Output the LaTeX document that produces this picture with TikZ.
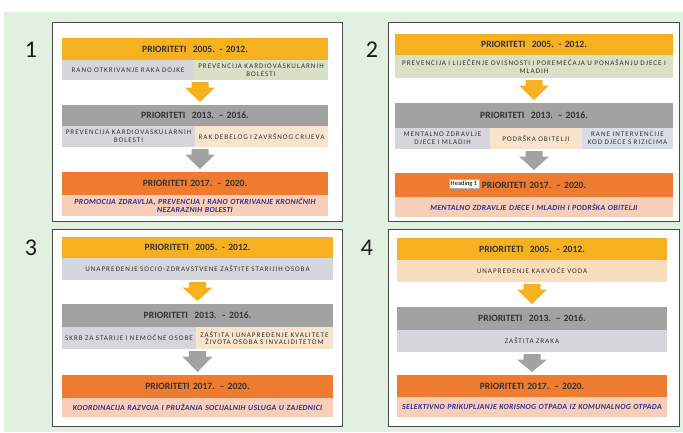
\documentclass[tikz,border=0pt]{standalone}
\usepackage{fontspec}
\setmainfont{Carlito}
\usetikzlibrary{calc}
\definecolor{bg}{HTML}{E2F0E2}
\definecolor{hy}{HTML}{F5B120}
\definecolor{hg}{HTML}{A2A2A2}
\definecolor{ho}{HTML}{EE7B30}
\definecolor{cg}{HTML}{D4D6DB}
\definecolor{cgr}{HTML}{D8E0C6}
\definecolor{cp}{HTML}{F8E4CC}
\definecolor{cpo}{HTML}{FADDBD}
\definecolor{cb}{HTML}{D6DCE8}
\definecolor{pk}{HTML}{F8CEB8}
\definecolor{nv}{HTML}{2E3190}
\definecolor{tx}{HTML}{333333}
\definecolor{fr}{HTML}{4A4A4A}
\tikzset{
  hdr/.style={font=\fontsize{9.6}{10}\selectfont\bfseries, text=tx},
  cell/.style={font=\fontsize{7.1}{7.6}\selectfont\addfontfeature{LetterSpace=14}, text=tx},
  pcell/.style={fill=pk, font=\fontsize{7.8}{8.6}\selectfont\bfseries\itshape\addfontfeature{LetterSpace=4}, text=nv},
  frame/.style={draw=fr, line width=0.9pt, fill=white},
  num/.style={font=\fontsize{24}{24}\selectfont, text=black!90},
  tag/.style={draw=gray!60, fill=white!95!yellow, font=\fontsize{6.5}{6.5}\selectfont, text=black, inner sep=1.5pt}
}
% name, x1, y1, x2, y2, style, text
\newcommand\bx[7]{%
  \pgfmathsetmacro\bxw{#4-#2}%
  \pgfmathsetmacro\bxh{#5-#3}%
  \pgfmathsetmacro\bxt{#4-#2-2}%
  \node[#6, inner sep=0pt, outer sep=0pt, minimum width=\bxw pt, minimum height=\bxh pt,
        text width=\bxt pt, align=center] (#1) at ({(#2+#4)/2},{(#3+#5)/2}) {#7};}
% top node, bottom node, x offset, colour
\newcommand\darr[4]{%
  \fill[#4] let \p1=(#1.south), \p2=(#2.north) in
    ({\x2+#3pt-8.5pt},{\y1-2pt}) -- ({\x2+#3pt+8.5pt},{\y1-2pt}) --
    ({\x2+#3pt+8.5pt},{\y1-7.5pt}) -- ({\x2+#3pt+15pt},{\y1-7.5pt}) --
    ({\x2+#3pt},{\y2+3pt}) -- ({\x2+#3pt-15pt},{\y1-7.5pt}) --
    ({\x2+#3pt-8.5pt},{\y1-7.5pt}) -- cycle;}
\begin{document}
\begin{tikzpicture}[x=1pt,y=-1pt]
\useasboundingbox (0,0) rectangle (683,432);
\fill[white] (0,0) rectangle (683,432);
\fill[bg] (4,12) rectangle (683,432);
% frames
\node[frame, minimum width=290pt, minimum height=199pt, inner sep=0pt] (p1) at (197,121.5) {};
\node[frame, minimum width=291pt, minimum height=199pt, inner sep=0pt] (p2) at (533.5,121.5) {};
\node[frame, minimum width=290pt, minimum height=197pt, inner sep=0pt] (p3) at (197,327.5) {};
\node[frame, minimum width=291pt, minimum height=197pt, inner sep=0pt] (p4) at (533.5,327.5) {};
% numbers
\node[num] (n1) at (31,50) {1};
\node[num] (n2) at (372,50) {2};
\node[num] (n3) at (31,248) {3};
\node[num] (n4) at (367,248) {4};
% panel 1
\bx{a1h}{62}{38}{328}{60}{hdr,fill=hy}{PRIORITETI\ \ 2005. - 2012.}
\bx{a1l}{62}{60}{194}{80}{cell,fill=cg}{RANO OTKRIVANJE RAKA DOJKE}
\bx{a1r}{194}{60}{328}{80}{cell,fill=cgr}{PREVENCIJA KARDIOVASKULARNIH\\BOLESTI}
\bx{b1h}{62}{105}{328}{126}{hdr,fill=hg}{PRIORITETI\ \ 2013. – 2016.}
\bx{b1l}{62}{126}{195}{147}{cell,fill=cg}{PREVENCIJA KARDIOVASKULARNIH\\BOLESTI}
\bx{b1r}{195}{126}{328}{147}{cell,fill=cp}{RAK DEBELOG I ZAVRŠNOG CRIJEVA}
\bx{c1h}{62}{172}{328}{195}{hdr,fill=ho}{PRIORITETI 2017. – 2020.}
\bx{c1p}{62}{195}{328}{216}{pcell}{PROMOCIJA ZDRAVLJA, PREVENCIJA I RANO OTKRIVANJE KRONIČNIH\\NEZARAZNIH BOLESTI}
\darr{a1l}{b1h}{5}{hy}
\darr{b1l}{c1h}{5}{hg}
% panel 2
\bx{a2h}{395}{34}{673}{55}{hdr,fill=hy}{PRIORITETI\ \ 2005. - 2012.}
\bx{a2c}{395}{55}{673}{78}{cell,fill=cgr}{PREVENCIJA I LIJEČENJE OVISNOSTI I POREMEĆAJA U PONAŠANJU DJECE I\\MLADIH}
\bx{b2h}{395}{103}{673}{128}{hdr,fill=hg}{PRIORITETI\ \ 2013. – 2016.}
\bx{b2l}{395}{128}{490}{149}{cell,fill=cg}{MENTALNO ZDRAVLJE\\DJECE I MLADIH}
\bx{b2m}{490}{128}{582}{149}{cell,fill=cp}{PODRŠKA OBITELJI}
\bx{b2r}{582}{128}{673}{149}{cell,fill=cb}{RANE INTERVENCIJE\\KOD DJECE S RIZICIMA}
\bx{c2h}{395}{173}{673}{197}{hdr,fill=ho}{PRIORITETI 2017. – 2020.}
\bx{c2p}{395}{197}{673}{217}{pcell}{MENTALNO ZDRAVLJE DJECE I MLADIH I PODRŠKA OBITELJI}
\node[tag] (tg) at (464,183.5) {Heading 1};
\darr{a2c}{b2h}{0}{hy}
\darr{b2m}{c2h}{0}{hg}
% panel 3
\bx{a3h}{62}{237}{333}{258}{hdr,fill=hy}{PRIORITETI\ \ 2005. - 2012.}
\bx{a3c}{62}{258}{333}{280}{cell,fill=cg}{UNAPREĐENJE SOCIO-ZDRAVSTVENE ZAŠTITE STARIJIH OSOBA}
\bx{b3h}{62}{304}{333}{327}{hdr,fill=hg}{PRIORITETI\ \ 2013. – 2016.}
\bx{b3l}{62}{327}{196}{349}{cell,fill=cg}{SKRB ZA STARIJE I NEMOĆNE OSOBE}
\bx{b3r}{196}{327}{333}{349}{cell,fill=cp}{ZAŠTITA I UNAPREĐENJE KVALITETE\\ŽIVOTA OSOBA S INVALIDITETOM}
\bx{c3h}{62}{375}{333}{398}{hdr,fill=ho}{PRIORITETI 2017. – 2020.}
\bx{c3p}{62}{398}{333}{417}{pcell}{KOORDINACIJA RAZVOJA I PRUŽANJA SOCIJALNIH USLUGA U ZAJEDNICI}
\darr{a3c}{b3h}{0}{hy}
\darr{b3l}{c3h}{0}{hg}
% panel 4
\bx{a4h}{397}{238}{667}{260}{hdr,fill=hy}{PRIORITETI\ \ 2005. - 2012.}
\bx{a4c}{397}{260}{667}{282}{cell,fill=cpo}{UNAPREĐENJE KAKVOĆE VODA}
\bx{b4h}{397}{307}{667}{330}{hdr,fill=hg}{PRIORITETI\ \ 2013. – 2016.}
\bx{b4c}{397}{330}{667}{352}{cell,fill=cg}{ZAŠTITA ZRAKA}
\bx{c4h}{397}{375}{667}{397}{hdr,fill=ho}{PRIORITETI 2017. – 2020.}
\bx{c4p}{397}{397}{667}{417}{pcell}{SELEKTIVNO PRIKUPLJANJE KORISNOG OTPADA IZ KOMUNALNOG OTPADA}
\darr{a4c}{b4h}{0}{hy}
\darr{b4c}{c4h}{0}{hg}
\end{tikzpicture}
\end{document}
